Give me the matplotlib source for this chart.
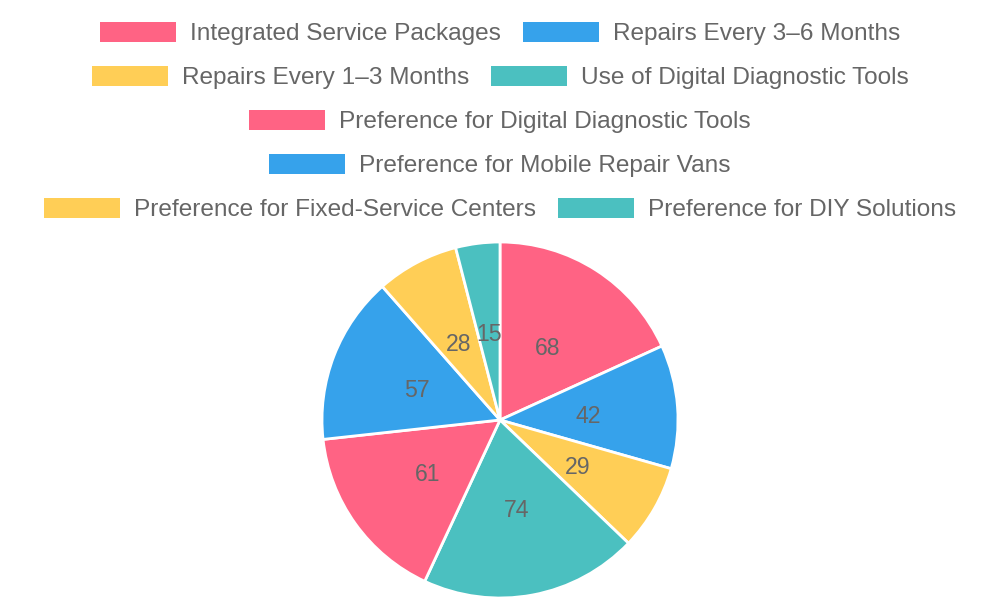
import matplotlib
matplotlib.use("Agg")
from matplotlib import pyplot as plt
from matplotlib.patches import Rectangle
import numpy as np

labels = [
    "Integrated Service Packages",
    "Repairs Every 3\u20136 Months",
    "Repairs Every 1\u20133 Months",
    "Use of Digital Diagnostic Tools",
    "Preference for Digital Diagnostic Tools",
    "Preference for Mobile Repair Vans",
    "Preference for Fixed-Service Centers",
    "Preference for DIY Solutions",
]
values = [68, 42, 29, 74, 61, 57, 28, 15]
palette = ["#FF6384", "#36A2EB", "#FFCE56", "#4BC0C0"]
colors = [palette[i % 4] for i in range(len(values))]
legend_rows = [[0, 1], [2, 3], [4], [5], [6, 7]]

W, H = 1000, 600
plt.rcParams['font.family'] = ['Liberation Sans', 'DejaVu Sans']
fig = plt.figure(figsize=(W / 100, H / 100), dpi=100)

# pie, centre (500, 420) from top, radius 178 px
cx, cy, r = 500, 420, 178
ax = fig.add_axes([(cx - r) / W, (H - cy - r) / H, 2 * r / W, 2 * r / H])
wedges, _ = ax.pie(values, colors=colors, startangle=90, counterclock=False,
                   radius=1, wedgeprops=dict(edgecolor="white", linewidth=2))
ax.set_xlim(-1, 1)
ax.set_ylim(-1, 1)
ax.axis("off")

total = sum(values)
ang = 90.0
for v in values:
    mid = np.deg2rad(ang - 360 * v / total / 2)
    # labels sit at half radius, nudged ~3px down to match
    ax.text(0.5 * np.cos(mid), 0.5 * np.sin(mid) - 3 / r, str(v), ha="center",
            va="center", fontsize=23 * 0.72, color="#666666")
    ang -= 360 * v / total

# legend, drawn in pixel coordinates
font_px = 24.4
box_w, box_h, gap_txt, gap_item = 76, 20, 14, 22
renderer = fig.canvas.get_renderer()
row_y = [32, 76, 120, 164, 208]
for row, y in zip(legend_rows, row_y):
    texts = []
    widths = []
    for i in row:
        t = fig.text(0, 0, labels[i], fontsize=font_px * 0.72, color="#666666",
                     va="center", ha="left")
        texts.append(t)
        widths.append(t.get_window_extent(renderer).width)
    row_w = sum(box_w + gap_txt + w for w in widths) + gap_item * (len(row) - 1)
    x = (W - row_w) / 2
    for i, t, w in zip(row, texts, widths):
        fig.patches.append(Rectangle((x / W, (H - y - box_h / 2) / H), box_w / W, box_h / H,
                                     transform=fig.transFigure, facecolor=colors[i],
                                     edgecolor="none"))
        t.set_position(((x + box_w + gap_txt) / W, (H - y - 2) / H))
        x += box_w + gap_txt + w + gap_item

fig.savefig("out.png", dpi=100)
